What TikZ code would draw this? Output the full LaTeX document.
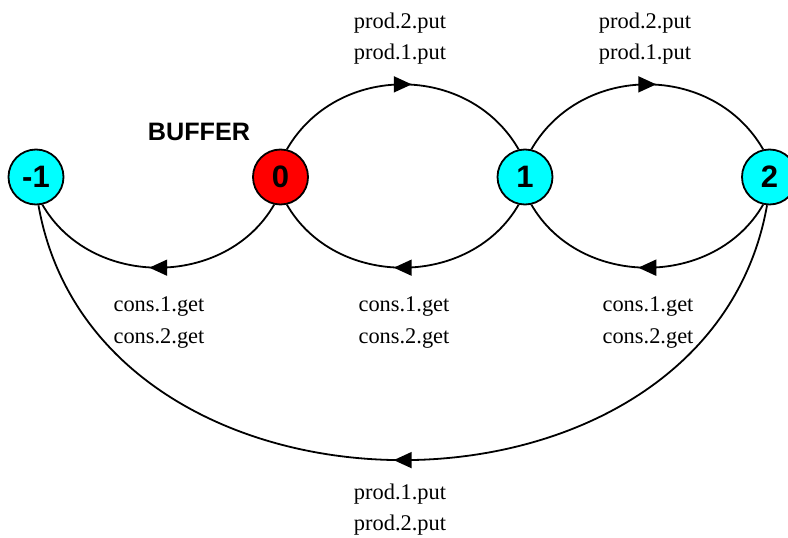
\documentclass[tikz,border=0pt]{standalone}
\usepackage{fontspec}
\setmainfont{Liberation Serif}
\newfontfamily\arialfont{Liberation Sans}
\usetikzlibrary{arrows.meta,decorations.markings}
\definecolor{stcyan}{RGB}{0,255,255}
\definecolor{stred}{RGB}{255,0,0}
\begin{document}
\begin{tikzpicture}[x=0.5pt,y=0.5pt,
  state/.style={circle, draw, line width=0.9pt, minimum size=27.5pt, inner sep=0pt,
    font=\arialfont\bfseries\fontsize{15.5}{17}\selectfont},
  lbl/.style={anchor=base, inner sep=0pt, font=\fontsize{11.2}{13}\selectfont},
  edge/.style={line width=0.9pt, postaction={decorate},
    decoration={markings, mark=at position 0.5 with {\arrow[xshift=4.5pt]{Triangle[length=9pt,width=8pt]}}}}]
\useasboundingbox (0,0) rectangle (788,537);
% states
\node[state, fill=stcyan] (nm1) at (36,360) {-1};
\node[state, fill=stred] (n0) at (280.5,360) {0};
\node[state, fill=stcyan] (n1) at (525,360) {1};
\node[state, fill=stcyan] (n2) at (769.5,360) {2};
\node[anchor=base, inner sep=0pt, font=\arialfont\bfseries\fontsize{12.6}{14}\selectfont] (buf) at (199,397) {BUFFER};
% transitions
\draw[edge] (n0.77) .. controls +(60:100) and +(120:100) .. (n1.103);
\draw[edge] (n1.77) .. controls +(60:100) and +(120:100) .. (n2.103);
\draw[edge] (n1.-103) .. controls +(-120:97) and +(-60:97) .. (n0.-77);
\draw[edge] (n2.-103) .. controls +(-120:97) and +(-60:97) .. (n1.-77);
\draw[edge] (n0.-103) .. controls +(-120:97) and +(-60:97) .. (nm1.-77);
\draw[edge] (n2.-95) .. controls +(-100:345) and +(-80:345) .. (nm1.-85);
% labels
\node[lbl] (t1a) at (400,509) {prod.2.put};
\node[lbl] (t1b) at (400,477) {prod.1.put};
\node[lbl] (t2a) at (645,509) {prod.2.put};
\node[lbl] (t2b) at (645,477) {prod.1.put};
\node[lbl] (c0a) at (159,226) {cons.1.get};
\node[lbl] (c0b) at (159,194) {cons.2.get};
\node[lbl] (c1a) at (404,226) {cons.1.get};
\node[lbl] (c1b) at (404,194) {cons.2.get};
\node[lbl] (c2a) at (648,226) {cons.1.get};
\node[lbl] (c2b) at (648,194) {cons.2.get};
\node[lbl] (b1) at (400,38) {prod.1.put};
\node[lbl] (b2) at (400,7) {prod.2.put};
\end{tikzpicture}
\end{document}
